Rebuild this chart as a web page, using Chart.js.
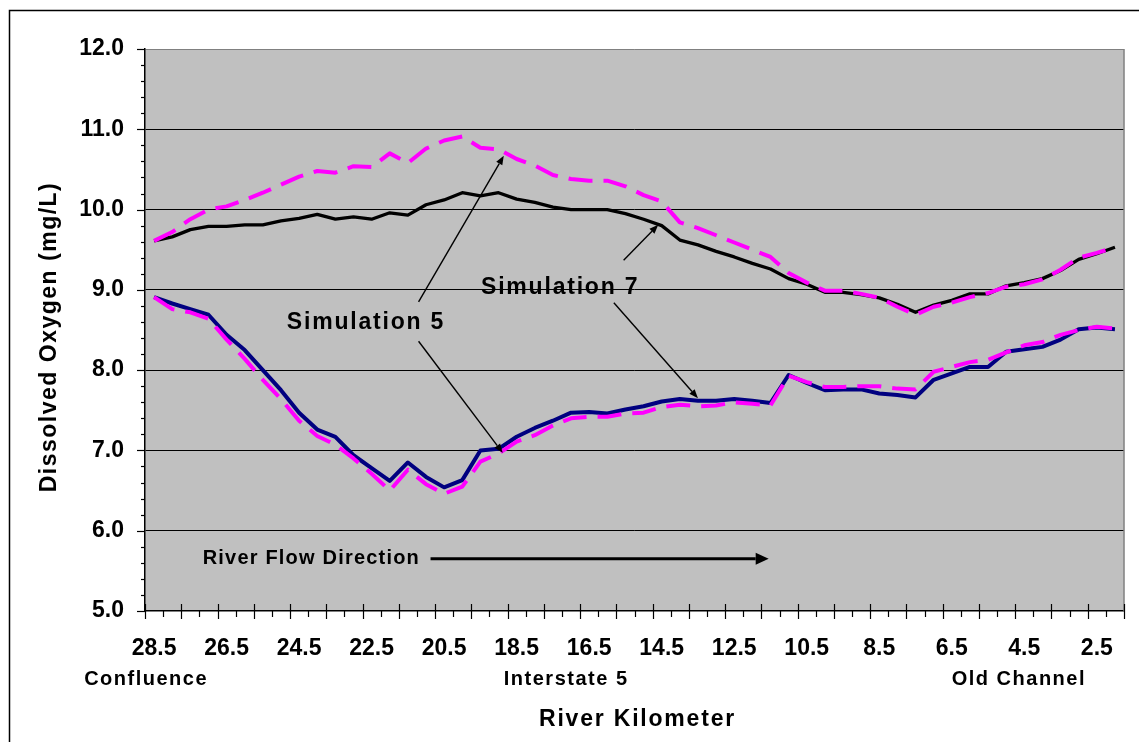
<!DOCTYPE html>
<html lang="en">
<head>
  <meta charset="UTF-8" />
  <title>Dissolved Oxygen - Simulation 5 and 7</title>
  <script src="https://cdn.jsdelivr.net/npm/chart.js"></script>
  <style>
    html, body { margin: 0; padding: 0; background: #fff; }
    canvas { display: block; }
  </style>
</head>
<body>
  <canvas id="doChart" width="1139" height="742"></canvas>

  <script>
    // river kilometer (categories) and shown tick labels
    const riverKm = ['28.5','28.0','27.5','27.0','26.5','26.0','25.5','25.0','24.5','24.0',
                     '23.5','23.0','22.5','22.0','21.5','21.0','20.5','20.0','19.5','19.0',
                     '18.5','18.0','17.5','17.0','16.5','16.0','15.5','15.0','14.5','14.0',
                     '13.5','13.0','12.5','12.0','11.5','11.0','10.5','10.0','9.5','9.0',
                     '8.5','8.0','7.5','7.0','6.5','6.0','5.5','5.0','4.5','4.0',
                     '3.5','3.0','2.5','2.0'];
    const tickLabels = ['28.5','26.5','24.5','22.5','20.5','18.5','16.5','14.5','12.5','10.5','8.5','6.5','4.5','2.5'];

    // dissolved oxygen (mg/L)
    const sim5Upper = [9.61, 9.72, 9.88, 10.00, 10.04, 10.12, 10.21, 10.31, 10.41, 10.48,
                       10.46, 10.54, 10.53, 10.70, 10.58, 10.76, 10.86, 10.91, 10.77, 10.75,
                       10.63, 10.55, 10.43, 10.38, 10.36, 10.36, 10.29, 10.18, 10.10, 9.84,
                       9.77, 9.68, 9.59, 9.50, 9.41, 9.21, 9.09, 8.99, 8.99, 8.95,
                       8.90, 8.79, 8.69, 8.79, 8.84, 8.91, 8.96, 9.04, 9.07, 9.13,
                       9.25, 9.40, 9.46, 9.53];
    const sim5Lower = [8.91, 8.76, 8.72, 8.64, 8.38, 8.14, 7.88, 7.64, 7.37, 7.18,
                       7.07, 6.90, 6.71, 6.50, 6.76, 6.58, 6.46, 6.55, 6.86, 6.96,
                       7.11, 7.19, 7.31, 7.40, 7.42, 7.42, 7.46, 7.47, 7.54, 7.57,
                       7.55, 7.56, 7.60, 7.58, 7.56, 7.93, 7.85, 7.79, 7.79, 7.80,
                       7.80, 7.77, 7.76, 7.98, 8.04, 8.10, 8.13, 8.22, 8.31, 8.35,
                       8.44, 8.50, 8.54, 8.52];
    const sim7Upper = [9.61, 9.66, 9.75, 9.79, 9.79, 9.81, 9.81, 9.86, 9.89, 9.94,
                       9.88, 9.91, 9.88, 9.96, 9.93, 10.06, 10.12, 10.21, 10.17, 10.21,
                       10.13, 10.09, 10.03, 10.00, 10.00, 10.00, 9.95, 9.88, 9.80, 9.62,
                       9.56, 9.48, 9.41, 9.33, 9.26, 9.14, 9.07, 8.97, 8.97, 8.94,
                       8.90, 8.82, 8.72, 8.81, 8.87, 8.95, 8.95, 9.05, 9.09, 9.14,
                       9.24, 9.38, 9.45, 9.53];
    const sim7Lower = [8.91, 8.83, 8.76, 8.69, 8.44, 8.25, 8.00, 7.75, 7.47, 7.26,
                       7.17, 6.94, 6.78, 6.62, 6.85, 6.67, 6.54, 6.63, 7.00, 7.02,
                       7.17, 7.28, 7.37, 7.47, 7.48, 7.46, 7.51, 7.55, 7.61, 7.64,
                       7.62, 7.62, 7.64, 7.62, 7.59, 7.94, 7.84, 7.75, 7.76, 7.76,
                       7.71, 7.69, 7.66, 7.88, 7.96, 8.04, 8.04, 8.23, 8.26, 8.29,
                       8.38, 8.51, 8.53, 8.51];

    const FONT = '"Liberation Sans", Arial, sans-serif';

    // callouts in data units (x = category index, y = mg/L)
    const callouts = [
      { text: 'Simulation 5', x: 11.69, y: 8.59 },
      { text: 'Simulation 7', x: 22.40, y: 9.03 }
    ];
    const pointers = [
      [14.59, 8.85, 19.29, 10.67],
      [14.59, 8.36, 19.23, 6.97],
      [25.90, 9.37, 27.81, 9.81],
      [25.36, 8.84, 30.00, 7.65]
    ];
    const places = [
      { text: 'Confluence', x: -0.44 },
      { text: 'Interstate 5', x: 22.73 },
      { text: 'Old Channel', x: 47.70 }
    ];

    function drawArrow(ctx, x0, y0, x1, y1, lw, head, half) {
      const a = Math.atan2(y1 - y0, x1 - x0);
      const bx = x1 - head * Math.cos(a), by = y1 - head * Math.sin(a);
      ctx.lineWidth = lw;
      ctx.beginPath(); ctx.moveTo(x0, y0); ctx.lineTo(bx, by); ctx.stroke();
      ctx.beginPath();
      ctx.moveTo(x1, y1);
      ctx.lineTo(bx + half * Math.sin(a), by - half * Math.cos(a));
      ctx.lineTo(bx - half * Math.sin(a), by + half * Math.cos(a));
      ctx.closePath(); ctx.fill();
    }

    const excelLook = {
      id: 'excelLook',
      beforeDraw(chart) {
        const { ctx, chartArea: a } = chart;
        ctx.save();
        ctx.fillStyle = '#fff';
        ctx.fillRect(0, 0, chart.width, chart.height);
        // outer frame
        ctx.strokeStyle = '#000';
        ctx.lineWidth = 1.5;
        ctx.beginPath();
        ctx.moveTo(9.5, chart.height + 5); ctx.lineTo(9.5, 10.5); ctx.lineTo(chart.width + 5, 10.5);
        ctx.stroke();
        ctx.fillStyle = '#c0c0c0';
        ctx.fillRect(a.left, a.top, a.right - a.left, a.bottom - a.top);
        ctx.restore();
      },
      afterDraw(chart) {
        const { ctx, chartArea: a } = chart;
        const xs = chart.scales.x, ys = chart.scales.y;
        ctx.save();
        // right plot border
        ctx.strokeStyle = '#808080';
        ctx.lineWidth = 1.5;
        ctx.beginPath(); ctx.moveTo(a.right, a.top); ctx.lineTo(a.right, a.bottom); ctx.stroke();

        // tick marks
        ctx.strokeStyle = '#000';
        ctx.lineWidth = 1.2;
        const step = xs.getPixelForValue(1) - xs.getPixelForValue(0);
        for (let i = 0; i <= riverKm.length; i++) {
          const px = Math.round(xs.getPixelForValue(i) - step / 2) + 0.5;
          ctx.beginPath();
          if (i % 2 === 0) { ctx.moveTo(px, a.bottom - 7); ctx.lineTo(px, a.bottom + 8); }
          else { ctx.moveTo(px, a.bottom); ctx.lineTo(px, a.bottom + 6); }
          ctx.stroke();
        }
        for (let k = 0; k <= 35; k++) {
          const v = ys.min + k * 0.2;
          const py = Math.round(ys.getPixelForValue(v)) + 0.5;
          ctx.beginPath();
          ctx.moveTo(a.left - (k % 5 === 0 ? 8 : 4), py); ctx.lineTo(a.left, py);
          ctx.stroke();
        }

        ctx.fillStyle = '#000';
        ctx.textBaseline = 'middle';
        ctx.textAlign = 'center';

        // callouts and pointers
        ctx.letterSpacing = '1.8px';
        ctx.font = 'bold 23px ' + FONT;
        callouts.forEach(c => ctx.fillText(c.text, xs.getPixelForValue(c.x), ys.getPixelForValue(c.y)));
        pointers.forEach(p => drawArrow(ctx,
          xs.getPixelForValue(p[0]), ys.getPixelForValue(p[1]),
          xs.getPixelForValue(p[2]), ys.getPixelForValue(p[3]), 1.4, 9, 3.5));

        // flow direction
        ctx.letterSpacing = '1.2px';
        ctx.font = 'bold 20px ' + FONT;
        ctx.textAlign = 'left';
        ctx.fillText('River Flow Direction', xs.getPixelForValue(2.68), ys.getPixelForValue(5.66));
        drawArrow(ctx, xs.getPixelForValue(15.25), ys.getPixelForValue(5.65),
          xs.getPixelForValue(33.9), ys.getPixelForValue(5.65), 3, 13, 6);

        // places under the axis
        ctx.textAlign = 'center';
        ctx.letterSpacing = '1.5px';
        places.forEach(p => ctx.fillText(p.text, xs.getPixelForValue(p.x), a.bottom + 68));

        // axis titles
        ctx.letterSpacing = '1.8px';
        ctx.font = 'bold 23px ' + FONT;
        ctx.fillText('River Kilometer', (a.left + a.right) / 2 + 3, 720);
        ctx.letterSpacing = '1.5px';
        ctx.translate(50, 337);
        ctx.rotate(-Math.PI / 2);
        ctx.fillText('Dissolved Oxygen (mg/L)', 0, 0);
        ctx.restore();
      }
    };

    new Chart(document.getElementById('doChart'), {
      type: 'line',
      data: {
        labels: riverKm,
        datasets: [
          { label: 'Simulation 5 (upper)', data: sim5Upper, borderColor: '#ff00ff', borderWidth: 4, borderDash: [24, 11] },
          { label: 'Simulation 5 (lower)', data: sim5Lower, borderColor: '#ff00ff', borderWidth: 4, borderDash: [24, 11] },
          { label: 'Simulation 7 (upper)', data: sim7Upper, borderColor: '#000000', borderWidth: 3.3 },
          { label: 'Simulation 7 (lower)', data: sim7Lower, borderColor: '#000080', borderWidth: 4 }
        ]
      },
      options: {
        responsive: false,
        animation: false,
        devicePixelRatio: 1,
        layout: { padding: { top: 49, right: 5, left: 0, bottom: 0 } },
        elements: {
          point: { radius: 0, hoverRadius: 0 },
          line: { tension: 0, fill: false, borderCapStyle: 'butt', borderJoinStyle: 'round' }
        },
        plugins: { legend: { display: false }, tooltip: { enabled: false } },
        scales: {
          x: {
            type: 'category',
            offset: true,
            grid: { display: false, drawTicks: false },
            border: { display: true, color: '#000', width: 1.5 },
            ticks: {
              autoSkip: false, maxRotation: 0, minRotation: 0, padding: 24, color: '#000',
              font: { family: FONT, size: 23, weight: 'bold' },
              callback: (v, i) => tickLabels.includes(riverKm[i]) ? riverKm[i] : ''
            },
            afterFit: s => { s.height = 131; }
          },
          y: {
            min: 5, max: 12,
            grid: {
              drawTicks: false, lineWidth: 1,
              color: c => c.tick && c.tick.value === 12 ? '#808080' : (c.tick && c.tick.value === 5 ? 'rgba(0,0,0,0)' : '#000')
            },
            border: { display: true, color: '#000', width: 1.5 },
            ticks: {
              stepSize: 1, padding: 21, color: '#000',
              font: { family: FONT, size: 23, weight: 'bold' },
              callback: v => v.toFixed(1)
            },
            afterFit: s => { s.width = 145; }
          }
        }
      },
      plugins: [excelLook]
    });
  </script>
</body>
</html>
